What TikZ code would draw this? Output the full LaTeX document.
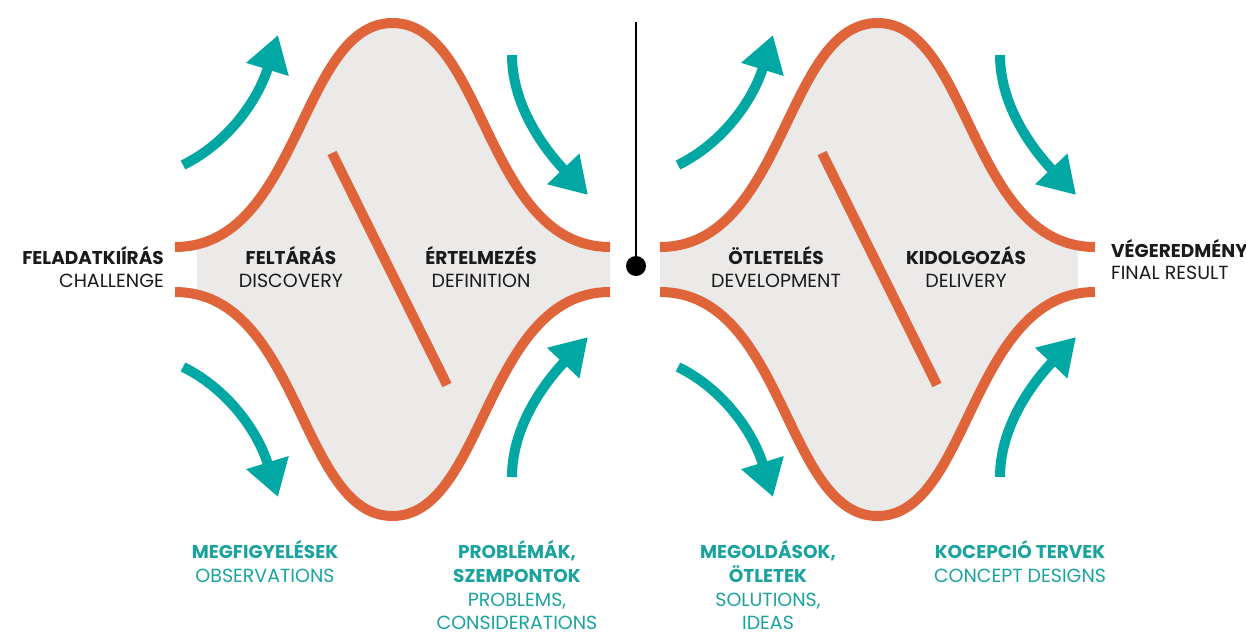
\documentclass[tikz,border=0pt]{standalone}
\usepackage{fontspec}
\setmainfont{Poppins}
\usetikzlibrary{arrows.meta}
\definecolor{orng}{HTML}{E0643A}
\definecolor{tealA}{HTML}{00A7A3}
\definecolor{tealT}{HTML}{1AA39E}
\definecolor{fillg}{HTML}{ECEAE8}
\definecolor{ink}{HTML}{1A1A1A}
\begin{document}
\begin{tikzpicture}[x=1pt,y=-1pt,
  bell/.style={draw=orng,line width=10pt},
  diag/.style={draw=orng,line width=10pt},
  flow/.style={draw=tealA,line width=10pt,-{Triangle[length=36pt,width=42pt]}},
  hb/.style={inner sep=0pt,font=\fontsize{18.5}{20}\selectfont\bfseries,text=ink},
  hn/.style={inner sep=0pt,font=\fontsize{19}{20}\selectfont,text=ink},
  tb/.style={inner sep=0pt,font=\fontsize{18.5}{20}\selectfont\bfseries,text=tealT},
  tn/.style={inner sep=0pt,font=\fontsize{19}{20}\selectfont,text=tealT}]
\useasboundingbox (0,0) rectangle (1246,632);
% fills
\begin{scope}
\clip (197,0) rectangle (610,632);
\fill[fillg] (175,247) .. controls (300,247) and (300,23) .. (392.5,23) .. controls (485,23) and (485,247) .. (610,247) -- (610,292) .. controls (485,292) and (485,516) .. (392.5,516) .. controls (300,516) and (300,292) .. (175,292) -- cycle;
\end{scope}
\begin{scope}
\clip (660,0) rectangle (1078,632);
\fill[fillg] (660,247) .. controls (785,247) and (785,23) .. (877.5,23) .. controls (970,23) and (970,247) .. (1095,247) -- (1095,292) .. controls (970,292) and (970,516) .. (877.5,516) .. controls (785,516) and (785,292) .. (660,292) -- cycle;
\end{scope}
% bells
\draw[bell] (175,247) .. controls (300,247) and (300,23) .. (392.5,23) .. controls (485,23) and (485,247) .. (610,247);
\draw[bell] (175,292) .. controls (300,292) and (300,516) .. (392.5,516) .. controls (485,516) and (485,292) .. (610,292);
\draw[bell] (660,247) .. controls (785,247) and (785,23) .. (877.5,23) .. controls (970,23) and (970,247) .. (1095,247);
\draw[bell] (660,292) .. controls (785,292) and (785,516) .. (877.5,516) .. controls (970,516) and (970,292) .. (1095,292);
% diagonals
\coordinate (d1a) at (332,153); \coordinate (d1b) at (447,385);
\coordinate (d2a) at (822,153); \coordinate (d2b) at (937,385);
\draw[diag] (d1a) -- (d1b);
\draw[diag] (d2a) -- (d2b);
% center line and dot
\coordinate (vtop) at (636,22);
\node[circle,fill=black,inner sep=0pt,minimum size=20pt] (dot) at (636,266) {};
\draw[line width=2.4pt] (vtop) -- (dot.center);
% arrows
\coordinate (a1s) at (183,165); \coordinate (a1e) at (278,35);
\coordinate (a2s) at (512,55); \coordinate (a2e) at (588,195);
\coordinate (a3s) at (183,367); \coordinate (a3e) at (278,497);
\coordinate (a4s) at (512,477); \coordinate (a4e) at (588,337);
\coordinate (b1s) at (678,165); \coordinate (b1e) at (773,35);
\coordinate (b2s) at (1000,55); \coordinate (b2e) at (1076,195);
\coordinate (b3s) at (678,367); \coordinate (b3e) at (773,497);
\coordinate (b4s) at (1000,477); \coordinate (b4e) at (1076,337);
\draw[flow] (a1s) .. controls (228,143) and (258,100) .. (a1e);
\draw[flow] (a2s) .. controls (512,110) and (550,155) .. (a2e);
\draw[flow] (a3s) .. controls (228,389) and (258,432) .. (a3e);
\draw[flow] (a4s) .. controls (512,422) and (550,377) .. (a4e);
\draw[flow] (b1s) .. controls (723,143) and (753,100) .. (b1e);
\draw[flow] (b2s) .. controls (1000,110) and (1038,155) .. (b2e);
\draw[flow] (b3s) .. controls (723,389) and (753,432) .. (b3e);
\draw[flow] (b4s) .. controls (1000,422) and (1038,377) .. (b4e);
% texts
\node[hb,anchor=base east] (t1a) at (164,264) {FELADATKIÍRÁS};
\node[hn,anchor=base east] (t1b) at (164,287) {CHALLENGE};
\node[hb,anchor=base] (t2a) at (291,264) {FELTÁRÁS};
\node[hn,anchor=base] (t2b) at (291,287) {DISCOVERY};
\node[hb,anchor=base] (t3a) at (481,264) {ÉRTELMEZÉS};
\node[hn,anchor=base] (t3b) at (481,287) {DEFINITION};
\node[hb,anchor=base] (t4a) at (776,264) {ÖTLETELÉS};
\node[hn,anchor=base] (t4b) at (776,287) {DEVELOPMENT};
\node[hb,anchor=base] (t5a) at (966,264) {KIDOLGOZÁS};
\node[hn,anchor=base] (t5b) at (966,287) {DELIVERY};
\node[hb,anchor=base west] (t6a) at (1111,257) {VÉGEREDMÉNY};
\node[hn,anchor=base west] (t6b) at (1111,279) {FINAL RESULT};
\node[tb,anchor=base] (o1) at (265,558) {MEGFIGYELÉSEK};
\node[tn,anchor=base] (o2) at (265,582) {OBSERVATIONS};
\node[tb,anchor=base] (p1) at (517,558) {PROBLÉMÁK,};
\node[tb,anchor=base] (p2) at (517,582) {SZEMPONTOK};
\node[tn,anchor=base] (p3) at (517,606) {PROBLEMS,};
\node[tn,anchor=base] (p4) at (517,629) {CONSIDERATIONS};
\node[tb,anchor=base] (s1) at (768,558) {MEGOLDÁSOK,};
\node[tb,anchor=base] (s2) at (768,582) {ÖTLETEK};
\node[tn,anchor=base] (s3) at (768,606) {SOLUTIONS,};
\node[tn,anchor=base] (s4) at (768,629) {IDEAS};
\node[tb,anchor=base] (k1) at (1020,558) {KOCEPCIÓ TERVEK};
\node[tn,anchor=base] (k2) at (1020,582) {CONCEPT DESIGNS};
\end{tikzpicture}
\end{document}
